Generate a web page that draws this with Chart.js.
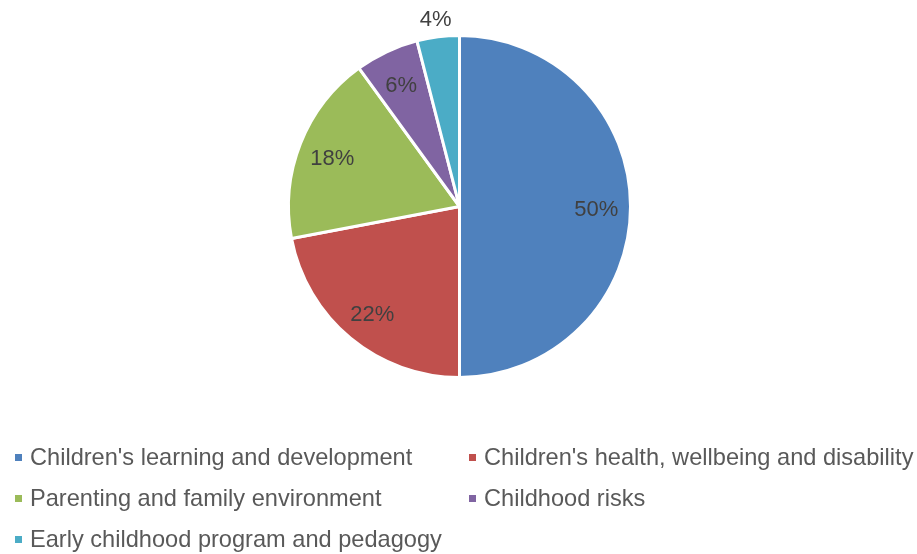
<!DOCTYPE html>
<html>
<head>
<meta charset="utf-8">
<script src="https://cdn.jsdelivr.net/npm/chart.js@4"></script>
<style>
html, body { margin: 0; padding: 0; background: #fff; }
#wrap { width: 917px; height: 554px; }
</style>
</head>
<body>
<div id="wrap"><canvas id="topicPie" width="917" height="554"></canvas></div>
<script>
var categories = [
    "Children's learning and development",
    "Children's health, wellbeing and disability",
    'Parenting and family environment',
    'Childhood risks',
    'Early childhood program and pedagogy'
];
var shares = [50, 22, 18, 6, 4];
var sliceColors = ['#4F81BD', '#C0504D', '#9BBB59', '#8064A2', '#4BACC6'];

var fontFamily = '"Liberation Sans", Arial, sans-serif';

// percentage labels on the slices (small slices go outside)
var sliceLabels = {
    id: 'sliceLabels',
    afterDatasetsDraw: function (chart) {
        var ctx = chart.ctx;
        var meta = chart.getDatasetMeta(0);
        var values = chart.data.datasets[0].data;
        ctx.save();
        ctx.font = '22px ' + fontFamily;
        ctx.fillStyle = '#404040';
        ctx.textAlign = 'center';
        ctx.textBaseline = 'middle';
        meta.data.forEach(function (arc, i) {
            var p = arc.getProps(['x', 'y', 'startAngle', 'endAngle', 'outerRadius'], true);
            var mid = (p.startAngle + p.endAngle) / 2;
            var r = values[i] < 5 ? p.outerRadius + 20 : p.outerRadius * 0.8;
            ctx.fillText(values[i] + '%', p.x + Math.cos(mid) * r, p.y + Math.sin(mid) * r + 3);
        });
        ctx.restore();
    }
};

// two-column legend under the pie
var gridLegend = {
    id: 'gridLegend',
    afterDraw: function (chart) {
        var ctx = chart.ctx;
        var colX = [15, 469];
        var rowY = [457, 498, 539];
        ctx.save();
        ctx.font = '23.6px ' + fontFamily;
        ctx.textBaseline = 'middle';
        chart.data.labels.forEach(function (label, i) {
            var x = colX[i % 2];
            var y = rowY[Math.floor(i / 2)];
            ctx.fillStyle = chart.data.datasets[0].backgroundColor[i];
            ctx.fillRect(x, y - 3, 7, 7);
            ctx.fillStyle = '#595959';
            ctx.fillText(label, x + 15, y + 1);
        });
        ctx.restore();
    }
};

var ctx = document.getElementById('topicPie').getContext('2d');
var topicChart = new Chart(ctx, {
    type: 'pie',
    data: {
        labels: categories,
        datasets: [{
            data: shares,
            backgroundColor: sliceColors,
            borderColor: '#ffffff',
            borderWidth: 3
        }]
    },
    options: {
        responsive: false,
        animation: false,
        layout: {
            padding: { top: 34, bottom: 175, left: 287, right: 285 }
        },
        plugins: {
            legend: { display: false },
            tooltip: { enabled: false }
        }
    },
    plugins: [sliceLabels, gridLegend]
});
</script>
</body>
</html>
